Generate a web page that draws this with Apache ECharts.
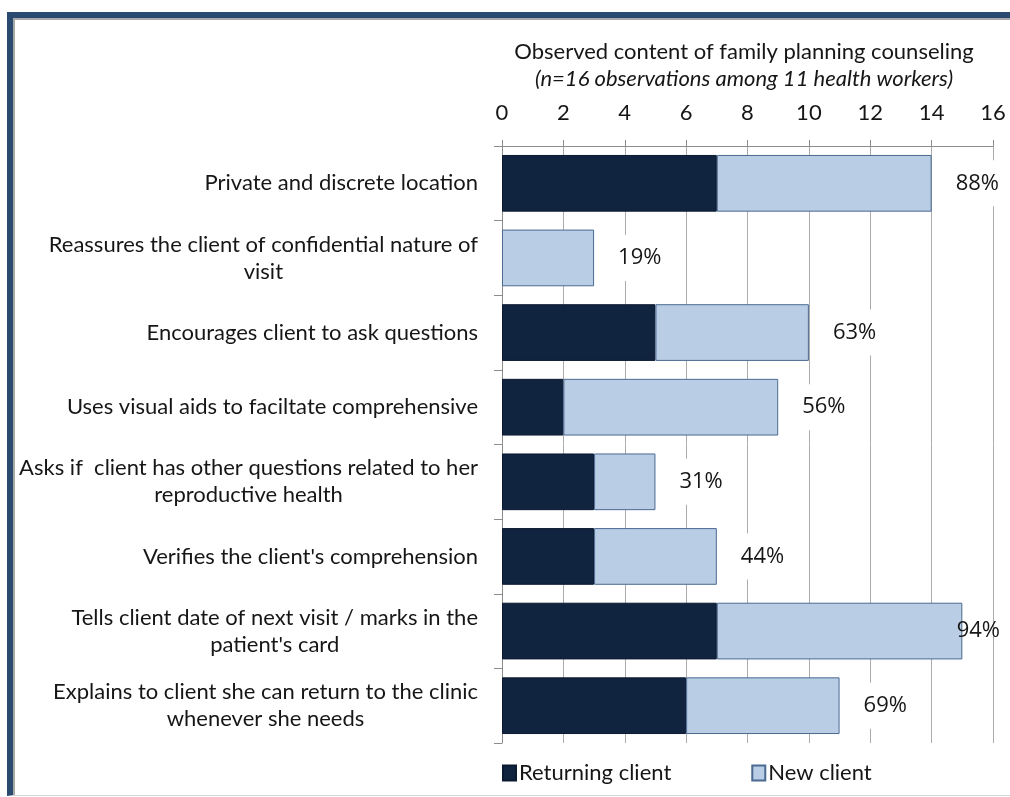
<!DOCTYPE html>
<html>
<head>
<meta charset="utf-8">
<title>Observed content of family planning counseling</title>
<script src="https://cdn.jsdelivr.net/npm/echarts@6/dist/echarts.min.js"></script>
<style>
  html, body { margin: 0; padding: 0; background: #ffffff; }
  #wrap { position: relative; width: 1010px; height: 797px; overflow: hidden; background: #ffffff; }
  /* navy frame on the top and left, thin grey rule at the bottom */
  #frame {
    position: absolute; left: 7px; top: 12px; right: -20px; bottom: 1px;
    border-left: 6px solid #2b4a6f; border-top: 6px solid #2b4a6f;
    border-bottom: 1px solid #d6d6d6;
    box-shadow: inset 2px 2px 0 #a9a9a9;
  }
  #chart { position: absolute; left: 0; top: 0; width: 1010px; height: 797px; }
</style>
</head>
<body>
<div id="wrap">
  <div id="frame"></div>
  <div id="chart"></div>
</div>
<script>
// Counseling practices observed (8 items)
var categories = [
  'Private and discrete location',
  'Reassures the client of confidential nature of\nvisit',
  'Encourages client to ask questions',
  'Uses visual aids to faciltate comprehensive',
  'Asks if  client has other questions related to her\nreproductive health',
  "Verifies the client's comprehension",
  "Tells client date of next visit / marks in the\npatient's card",
  'Explains to client she can return to the clinic\nwhenever she needs'
];

// Number of observations in which each practice was seen
var returningClient = [7, 0, 5, 2, 3, 3, 7, 6];
var newClient       = [7, 3, 5, 7, 2, 4, 8, 5];

// Total observations (n)
var observations = 16;

// Value axis ticks
var axisMin = 0, axisMax = 16, axisStep = 2;

var seriesNames = ['Returning client', 'New client'];
var titleText = 'Observed content of family planning counseling';
var subtitleText = '(n=16 observations among 11 health workers)';

var totals = returningClient.map(function (v, i) { return v + newClient[i]; });

var textColor = '#161616';
var labelFont = 'Lato';

// zero-length segments get no outline
var returningData = returningClient.map(function (v) {
  return v === 0 ? { value: v, itemStyle: { borderWidth: 0 } } : v;
});
// bars that reach the far end of the axis keep a see-through label box
var newData = newClient.map(function (v, i) {
  return totals[i] >= axisMax - 1
    ? { value: v, label: { backgroundColor: 'transparent' } }
    : v;
});

var chart = echarts.init(document.getElementById('chart'), null, { renderer: 'canvas' });

chart.setOption({
  backgroundColor: 'transparent',
  animation: false,
  title: {
    text: titleText,
    subtext: subtitleText,
    left: 739,
    top: 36,
    textAlign: 'center',
    itemGap: 5,
    textStyle: { fontFamily: labelFont, fontSize: 22, fontWeight: 'normal', color: textColor },
    subtextStyle: { fontFamily: labelFont, fontSize: 22, fontStyle: 'italic', color: textColor }
  },
  legend: {
    left: 497,
    top: 757,
    itemWidth: 13,
    itemHeight: 15,
    itemGap: 80,
    icon: 'rect',
    textStyle: { fontFamily: labelFont, fontSize: 22, color: textColor, padding: [0, 0, 0, -2] },
    data: seriesNames
  },
  grid: { left: 502, right: 17, top: 146, bottom: 54, containLabel: false },
  xAxis: {
    type: 'value',
    position: 'top',
    min: axisMin,
    max: axisMax,
    interval: axisStep,
    axisLine: { show: true, lineStyle: { color: '#8c8c8c', width: 1 } },
    axisTick: { show: true, length: 6, lineStyle: { color: '#8c8c8c' } },
    axisLabel: { margin: 22, fontFamily: labelFont, fontSize: 22, color: textColor },
    splitLine: { show: true, lineStyle: { color: '#ababab', width: 1 } }
  },
  yAxis: {
    type: 'category',
    inverse: true,
    data: categories,
    axisLine: { show: true, lineStyle: { color: '#8c8c8c', width: 1 } },
    axisTick: { show: true, length: 8, lineStyle: { color: '#8c8c8c' } },
    axisLabel: {
      margin: 24,
      color: textColor,
      fontFamily: labelFont,
      fontSize: 22,
      lineHeight: 27,
      formatter: function (value) {
        return value.split('\n').map(function (line) { return '{c|' + line + '}'; }).join('\n');
      },
      rich: {
        c: { align: 'center', fontFamily: labelFont, fontSize: 22, lineHeight: 27, color: textColor }
      }
    },
    splitLine: { show: false }
  },
  series: [
    {
      name: seriesNames[0],
      type: 'bar',
      stack: 'clients',
      barCategoryGap: '24%',
      data: returningData,
      itemStyle: { color: '#10233f', borderColor: '#0b1a30', borderWidth: 1 }
    },
    {
      name: seriesNames[1],
      type: 'bar',
      stack: 'clients',
      barCategoryGap: '24%',
      data: newData,
      itemStyle: { color: '#b9cde5', borderColor: '#4b6a92', borderWidth: 1 },
      label: {
        show: true,
        position: 'right',
        distance: 8,
        fontFamily: 'Open Sans',
        fontSize: 22,
        color: textColor,
        backgroundColor: '#ffffff',
        padding: [12, 16, 12, 16],
        formatter: function (p) {
          return Math.round(totals[p.dataIndex] / observations * 100) + '%';
        }
      }
    }
  ],
  labelLayout: function (params) {
    // keep the percentage text inside the chart's right edge
    var rect = params.labelRect;
    var limit = chart.getWidth() - 10 + 16;
    var over = rect.x + rect.width - limit;
    return over > 0 ? { dx: -over } : {};
  }
});
</script>
</body>
</html>
